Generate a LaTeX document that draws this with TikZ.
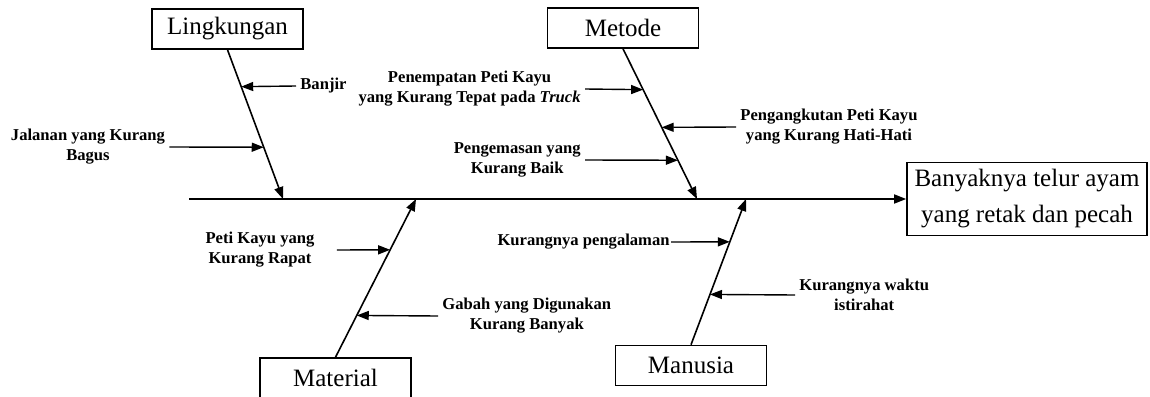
\documentclass[tikz,border=0pt]{standalone}
\usepackage{fontspec}
\setmainfont{Liberation Serif}
\usetikzlibrary{calc,arrows.meta}

\tikzset{
	catbox/.style={draw,line width=0.8pt,minimum width=75.5pt,minimum height=20pt,inner sep=0pt,font=\fontsize{12.5}{18}\selectfont},
	cause/.style={align=center,inner sep=2pt,font=\fontsize{8.3}{10}\selectfont\bfseries},
	bone/.style={->,line width=0.8pt},
	twig/.style={->,line width=0.7pt}
}

\begin{document}
\begin{tikzpicture}[x=0.5pt,y=-0.5pt,>={Triangle[length=6pt,width=4.5pt]}]
\useasboundingbox (0,0) rectangle (1150,396);
% categories and effect
\node[catbox] (lingk) at (227.5,29) {Lingkungan};
\node[catbox] (metode) at (623,28) {Metode};
\node[catbox] (material) at (335.5,378) {Material};
\node[catbox] (manusia) at (691,365.5) {Manusia};
\node[catbox,minimum width=120pt,minimum height=36.5pt,align=center] (effect) at (1027,199) {Banyaknya telur ayam\\yang retak dan pecah};
% spine
\coordinate (tail) at (189,199);
\draw[bone] (tail) -- (effect.west);
\coordinate (lt) at (283,199);
\coordinate (mt) at (697,199);
\coordinate (mat) at (416,199);
\coordinate (mant) at (746,199);
\draw[bone] (lingk.south) -- (lt);
\draw[bone] (metode.south) -- (mt);
\draw[bone] (material.north) -- (mat);
\draw[bone] (manusia.north) -- (mant);
% points on the bones
\coordinate (l1) at ($(lingk.south)!0.247!(lt)$);
\coordinate (l2) at ($(lingk.south)!0.653!(lt)$);
\coordinate (m1) at ($(metode.south)!0.272!(mt)$);
\coordinate (m2) at ($(metode.south)!0.523!(mt)$);
\coordinate (m3) at ($(metode.south)!0.742!(mt)$);
\coordinate (a1) at ($(material.north)!0.679!(mat)$);
\coordinate (a2) at ($(material.north)!0.264!(mat)$);
\coordinate (h1) at ($(manusia.north)!0.706!(mant)$);
\coordinate (h2) at ($(manusia.north)!0.345!(mant)$);
% causes
\node[cause,anchor=west] (banjir) at (296,86) {Banjir};
\node[cause] (jalan) at (88,147) {Jalanan yang Kurang\\Bagus};
\node[cause,anchor=east] (tempat) at (585,89) {Penempatan Peti Kayu\\yang Kurang Tepat pada \textit{Truck}};
\node[cause,anchor=west] (angkut) at (736,127) {Pengangkutan Peti Kayu\\yang Kurang Hati-Hati};
\node[cause,anchor=east] (kemas) at (585,160) {Pengemasan yang\\Kurang Baik};
\node[cause] (peti) at (260,250) {Peti Kayu yang\\Kurang Rapat};
\node[cause,anchor=west] (gabah) at (438,316) {Gabah yang Digunakan\\Kurang Banyak};
\node[cause,anchor=east,inner sep=0.5pt] (alam) at (671,242) {Kurangnya pengalaman};
\node[cause,anchor=west] (waktu) at (795,295) {Kurangnya waktu\\istirahat};
\draw[twig] (banjir.west) -- (l1);
\draw[twig] (jalan.east) -- (l2);
\draw[twig] (tempat.east) -- (m1);
\draw[twig] (angkut.west) -- (m2);
\draw[twig] (kemas.east) -- (m3);
\draw[twig] ([xshift=9pt]peti.east) -- (a1);
\draw[twig] (gabah.west) -- (a2);
\draw[twig] (alam.east) -- (h1);
\draw[twig] (waktu.west) -- (h2);
\end{tikzpicture}
\end{document}
